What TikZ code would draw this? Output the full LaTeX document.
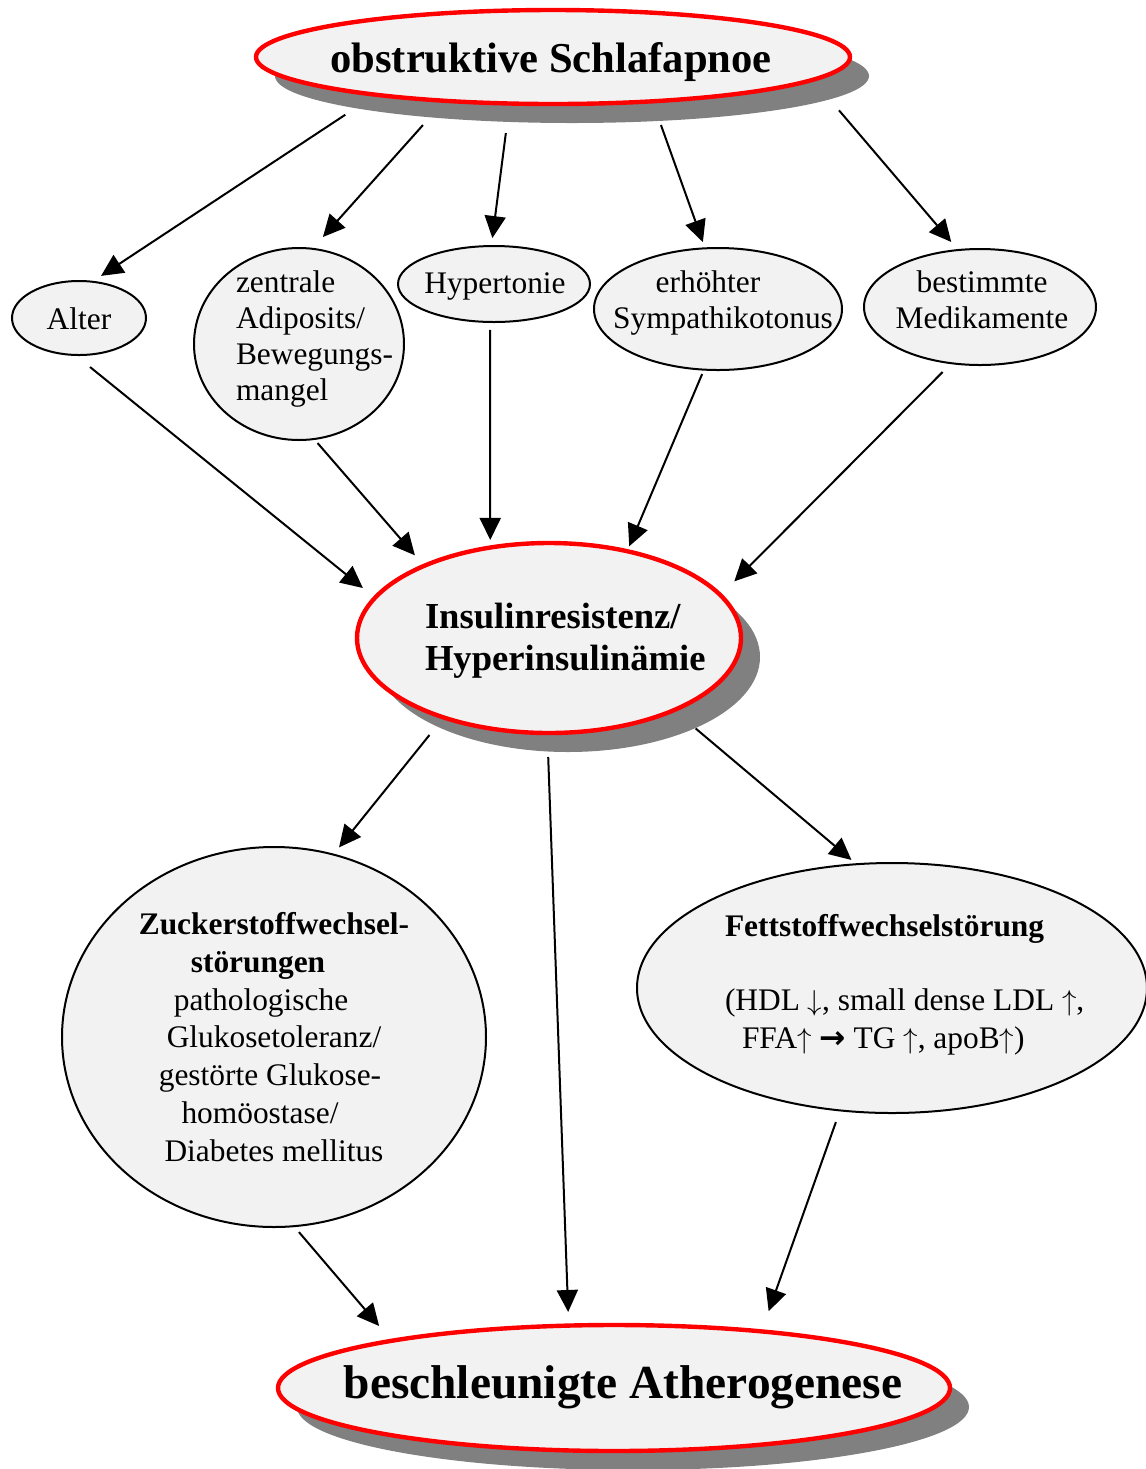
\documentclass[tikz,border=0pt]{standalone}
\usepackage{fontspec}
\setmainfont{Liberation Serif}
\newfontfamily\heavyarrowfont{DejaVu Sans}
\usetikzlibrary{shapes.geometric,shadows,arrows.meta}

\definecolor{nodefill}{HTML}{F2F2F2}
\definecolor{shadowgray}{HTML}{808080}
\definecolor{keyred}{HTML}{FF0000}

\newcommand{\up}{$\uparrow$}
\newcommand{\down}{$\downarrow$}

\tikzset{
  bubble/.style={ellipse, draw=black, line width=1pt, fill=nodefill,
    inner sep=0pt, outer sep=0pt},
  keybubble/.style={bubble, draw=keyred, line width=2.2pt,
    drop shadow={shadow xshift=9.5pt, shadow yshift=-9.5pt,
      fill=shadowgray, opacity=1}},
  txt/.style={inner sep=0pt, outer sep=0pt,
    font=\fontsize{15.7}{18}\selectfont},
  bigtxt/.style={inner sep=0pt, outer sep=0pt},
  conn/.style={-{Triangle[length=11pt,width=10.5pt]}, line width=1pt},
}

\begin{document}
\begin{tikzpicture}[x=0.5pt,y=-0.5pt]
\useasboundingbox (0,0) rectangle (1146,1469);

% ellipses
\node[keybubble, minimum width=297pt, minimum height=47pt] (osa) at (553,57) {};
\node[bubble, minimum width=67pt, minimum height=37pt] (alter) at (79,318) {};
\node[bubble, minimum width=105pt, minimum height=96pt] (adip) at (299,344) {};
\node[bubble, minimum width=96pt, minimum height=38pt] (hyper) at (494,284) {};
\node[bubble, minimum width=124pt, minimum height=61pt] (symp) at (718,309) {};
\node[bubble, minimum width=116pt, minimum height=58pt] (med) at (980,307) {};
\node[keybubble, minimum width=192pt, minimum height=95pt] (ir) at (549,638) {};
\node[bubble, minimum width=212pt, minimum height=190pt] (zucker) at (274,1037) {};
\node[bubble, minimum width=255pt, minimum height=125pt] (fett) at (892,988) {};
\node[keybubble, minimum width=336pt, minimum height=63pt] (ath) at (614,1388) {};

% texts (multi-line nodes are placed by the baseline of their last line)
\node[bigtxt, font=\bfseries\fontsize{21.3}{25}\selectfont, anchor=base] (osaT) at (551,72) {obstruktive Schlafapnoe};
\node[txt, anchor=base] (alterT) at (79,329) {Alter};
\node[txt, align=left, anchor=base west] (adipT) at (236,400) {zentrale\\Adiposits/\\Bewegungs-\\mangel};
\node[txt, anchor=base] (hyperT) at (495,293) {Hypertonie};
\node[txt, align=center, anchor=base] (sympT) at (723,328) {erhöhter\kern15pt\\Sympathikotonus};
\node[txt, align=center, anchor=base] (medT) at (982,328) {bestimmte\\Medikamente};
\node[bigtxt, align=left, anchor=base west, font=\bfseries\fontsize{18.3}{21}\selectfont] (irT) at (425,670) {Insulinresistenz/\\Hyperinsulinämie};
\node[txt, align=center, anchor=base, font=\fontsize{15.7}{18.85}\selectfont] (zuckerT) at (274,1161)
  {\textbf{Zuckerstoffwechsel-}\\\textbf{störungen}\kern16pt\\pathologische\kern13pt\\Glukosetoleranz/\\gestörte Glukose-\kern4pt\\homöostase/\kern14pt\\Diabetes mellitus};
\node[txt, align=left, anchor=base west, font=\fontsize{15.7}{18.85}\selectfont] (fettT) at (725,1048)
  {\textbf{Fettstoffwechselstörung}\\[18.2pt](HDL \down, small dense LDL \up,\\\kern8.5pt FFA\up{} {\heavyarrowfont\bfseries →} TG \up, apoB\up)};
\node[bigtxt, font=\bfseries\fontsize{23.7}{28}\selectfont, anchor=base] (athT) at (623,1398) {beschleunigte Atherogenese};

% connectors
\draw[conn, shorten <=18.2pt, shorten >=5.3pt] (osa.192.5) -- (alter.70.1);
\draw[conn, shorten <=16.3pt, shorten >=7.9pt] (osa.202.3) -- (adip.82.6);
\draw[conn, shorten <=14.9pt, shorten >=4.0pt] (osa.227.2) -- (hyper.94.6);
\draw[conn, shorten <=12.6pt, shorten >=3.3pt] (osa.336.8) -- (symp.102.0);
\draw[conn, shorten <=20.1pt, shorten >=5.3pt] (osa.355.2) -- (med.111.4);
\draw[conn, shorten <=9.6pt, shorten >=7.8pt] (alter.264.0) -- (ir.167.0);
\draw[conn, shorten <=2.7pt, shorten >=7.0pt] (adip.279.9) -- (ir.150.7);
\draw[conn, shorten <=4.0pt, shorten >=3.8pt] (hyper.264.0) -- (ir.123.1);
\draw[conn, shorten <=2.4pt, shorten >=2.7pt] (symp.257.8) -- (ir.48.6);
\draw[conn, shorten <=6.2pt, shorten >=9.8pt] (med.243.3) -- (ir.14.1);
\draw[conn, shorten <=11.3pt, shorten >=4.6pt] (ir.217.3) -- (zucker.72.7);
\draw[conn, shorten <=12.0pt, shorten >=6.8pt] (ir.269.5) -- (ath.126.1);
\draw[conn, shorten <=14.2pt, shorten >=3.3pt] (ir.330.5) -- (fett.106.7);
\draw[conn, shorten <=3.9pt, shorten >=9.7pt] (zucker.276.7) -- (ath.168.1);
\draw[conn, shorten <=6.2pt, shorten >=10.7pt] (fett.247.2) -- (ath.21.8);
\end{tikzpicture}
\end{document}
